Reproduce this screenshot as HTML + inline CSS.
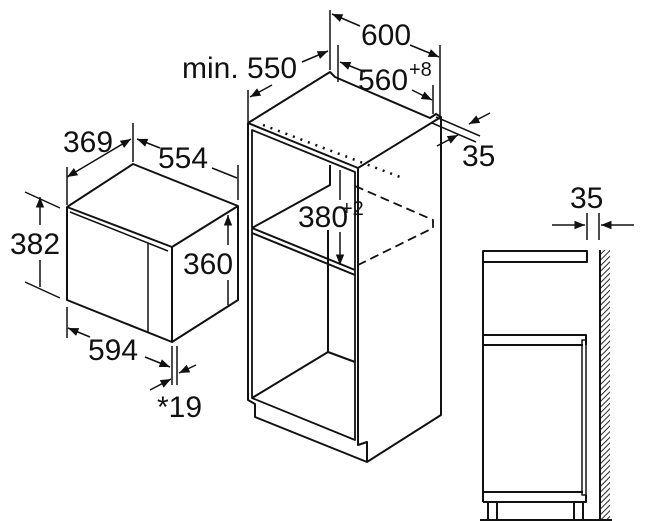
<!DOCTYPE html>
<html><head><meta charset="utf-8"><style>
html,body{margin:0;padding:0;background:#fff}
svg{display:block}
text{font-family:"Liberation Sans",Arial,sans-serif;font-size:30px;fill:#111}
</style></head><body>
<svg width="649" height="521" viewBox="0 0 649 521" xmlns="http://www.w3.org/2000/svg">
<defs>
<marker id="a" viewBox="0 0 10 10" refX="10" refY="5" markerWidth="7" markerHeight="7" orient="auto-start-reverse"><path d="M0,1 L10,5 L0,9 z" fill="#111"/></marker>
<pattern id="h" width="4" height="4" patternUnits="userSpaceOnUse" patternTransform="rotate(45)"><line x1="0" y1="0" x2="0" y2="4" stroke="#111" stroke-width="1.8"/></pattern>
</defs>
<g stroke="#111" stroke-width="2" fill="none" stroke-linejoin="round">
<path d="M133,164 L238,206 L238,300 L172,342 L67,300 L67,207 Z M67,207 L172,247 L238,206 M172,247 L172,342"/>
<path d="M70,212 L168,251 M148,243 L148,333" stroke-width="1.5"/>
<path d="M67,167 V205 M133,123 V162 M238,165 V200 M25,192 L60,208 M25,282 L60,298 M67,307 V338 M172,346 V385 M177,346 V385" stroke-width="1.5"/>
<path d="M67,177 L131,139" marker-start="url(#a)" marker-end="url(#a)" stroke-width="1.5"/>
<path d="M137,139 L160,148 M212,168 L237,178" stroke-width="1.5" marker-start="url(#a)"/>
<path d="M40,197 V225 M40,260 V287" stroke-width="1.5" marker-start="url(#a)"/>
<path d="M228,215 V245 M228,280 V305" stroke-width="1.5" marker-start="url(#a)"/>
<path d="M90,337 L68,328" stroke-width="1.5" marker-end="url(#a)"/>
<path d="M145,357 L170,367" stroke-width="1.5" marker-end="url(#a)"/>
<path d="M150,390 L171,379" stroke-width="1.5" marker-end="url(#a)"/>
<path d="M196,365 L179,373" stroke-width="1.5" marker-end="url(#a)"/>
<path d="M330,72 L248,123 L248,400 L255,404 L255,417 L367,462 L441,415 L441,117 L436,114 L430,118 L335,77 Z"/>
<path d="M248,123 L358,168 L441,117 M358,168 L358,445 L367,442 L367,462"/>
<path d="M252,130 L355,172 L355,440 L252,398 Z" stroke-width="1.8"/>
<path d="M252,398 L328,352 L355,362 M328,352 V230 M252,228 L355,270 M252,233 L355,275 M252,228 L330,185 L330,165"/>
<path d="M263,125 L400,177" stroke-dasharray="2,6" stroke-width="2.5"/>
<path d="M355,186 L433,220 L433,228 L358,265" stroke-dasharray="9,5" stroke-width="1.8"/>
<path d="M330,10 V70 M440,45 V117 M338,45 V82 M433,85 V114 M248,90 V122 M436,117 L480,136 M432,123 L476,142 M441,140 V160" stroke-width="1.5"/>
<path d="M360,26 L332,14" stroke-width="1.5" marker-end="url(#a)"/>
<path d="M410,45 L439,57" stroke-width="1.5" marker-end="url(#a)"/>
<path d="M365,72 L340,62" stroke-width="1.5" marker-end="url(#a)"/>
<path d="M412,90 L432,100" stroke-width="1.5" marker-end="url(#a)"/>
<path d="M302,62 L328,51" stroke-width="1.5" marker-end="url(#a)"/>
<path d="M272,85 L250,97" stroke-width="1.5" marker-end="url(#a)"/>
<path d="M490,113 L469,124" stroke-width="1.5" marker-end="url(#a)"/>
<path d="M437,146 L458,135" stroke-width="1.5" marker-end="url(#a)"/>
<path d="M340,200 L340,170 M340,232 L340,265" stroke-width="1.5" marker-end="url(#a)"/>
<rect x="483" y="251" width="104" height="11"/>
<path d="M483,262 V502 M483,335 H586 V345 M483,345 H583 M483,492 H583 M483,502 H586 V495 M488,502 V520 M497,502 V520 M574,502 V520 M583,502 V520 M480,520 H612"/>
<rect x="582" y="340" width="4" height="155" stroke-width="1.5"/>
<rect x="600" y="250" width="10" height="270" fill="url(#h)" stroke="none"/>
<path d="M600,250 V520"/>
<path d="M587,213 V240 M599,213 V240" stroke-width="1.5"/>
<path d="M552,225 L585,225" stroke-width="1.5" marker-end="url(#a)"/>
<path d="M634,225 L601,225" stroke-width="1.5" marker-end="url(#a)"/>
</g>
<text x="63" y="152">369</text>
<text x="158" y="168">554</text>
<text x="10" y="254">382</text>
<text x="183" y="274">360</text>
<text x="88" y="360">594</text>
<text x="157" y="417">*19</text>
<text x="361" y="45">600</text>
<text x="182" y="78">min. 550</text>
<text x="358" y="90">560</text><text x="409" y="76" style="font-size:20px">+8</text>
<text x="462" y="166">35</text>
<text x="298" y="227">380</text><text x="341" y="215" style="font-size:20px">+2</text>
<text x="570" y="208">35</text>
</svg>
</body></html>
